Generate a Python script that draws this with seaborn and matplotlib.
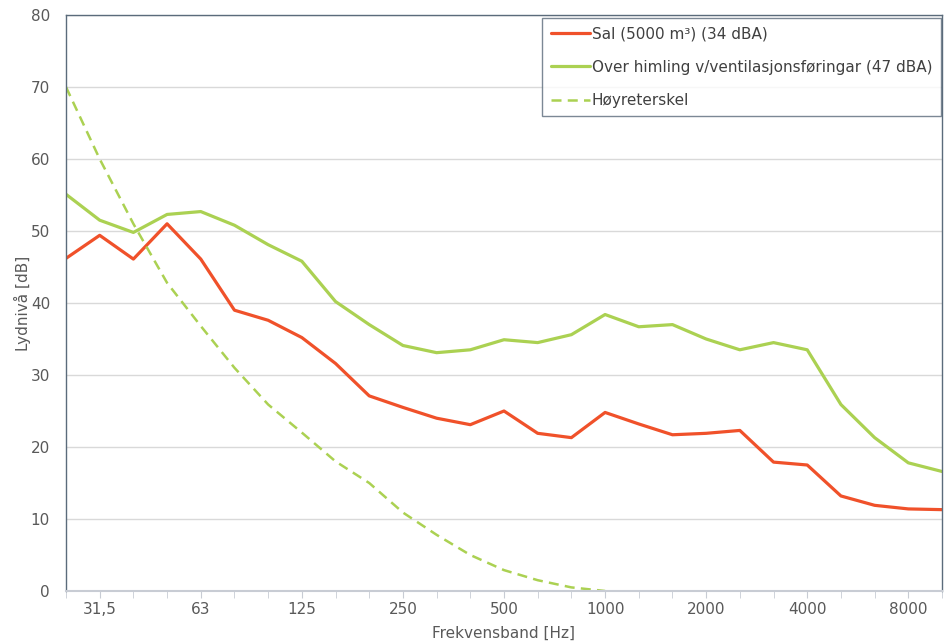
import numpy as np
import pandas as pd
import seaborn as sns
import matplotlib.pyplot as plt

# tersband 25 Hz - 10 kHz
bands = ['25', '31,5', '40', '50', '63', '80', '100', '125', '160', '200', '250', '315',
         '400', '500', '630', '800', '1000', '1250', '1600', '2000', '2500', '3150',
         '4000', '5000', '6300', '8000', '10000']
sal = [46.2, 49.4, 46.1, 51.0, 46.1, 39.0, 37.6, 35.2, 31.6, 27.1, 25.5, 24.0,
       23.1, 25.0, 21.9, 21.3, 24.8, 23.2, 21.7, 21.9, 22.3, 17.9, 17.5, 13.2,
       11.9, 11.4, 11.3]
himling = [55.1, 51.5, 49.8, 52.3, 52.7, 50.8, 48.1, 45.8, 40.2, 37.0, 34.1, 33.1,
           33.5, 34.9, 34.5, 35.6, 38.4, 36.7, 37.0, 35.0, 33.5, 34.5, 33.5, 25.9,
           21.3, 17.8, 16.6]
terskel = [70.0, 60.0, 51.0, 42.8, 36.8, 31.0, 25.9, 22.0, 18.0, 15.0, 10.9, 7.8,
           5.0, 2.9, 1.5, 0.5, 0.0]
tick_labels = ['31,5', '63', '125', '250', '500', '1000', '2000', '4000', '8000']

lbl_sal = 'Sal (5000 m³) (34 dBA)'
lbl_him = 'Over himling v/ventilasjonsføringar (47 dBA)'
lbl_ter = 'Høyreterskel'

df = pd.DataFrame({'idx': np.arange(len(bands)), 'band': bands,
                   lbl_sal: sal, lbl_him: himling})
df_t = pd.DataFrame({'idx': np.arange(len(terskel)), lbl_ter: terskel})

sns.set_style('white')
plt.rcParams['font.family'] = ['DejaVu Sans']
txt = '#595959'

fig = plt.figure(figsize=(9.45, 6.44), dpi=100)
ax = fig.add_axes([66 / 945, 1 - 591 / 644, 876 / 945, 576 / 644])

sns.lineplot(data=df, x='idx', y=lbl_sal, ax=ax, color='#f0512a', lw=2.3, label=lbl_sal)
sns.lineplot(data=df, x='idx', y=lbl_him, ax=ax, color='#abd152', lw=2.3, label=lbl_him)
sns.lineplot(data=df_t, x='idx', y=lbl_ter, ax=ax, color='#abd152', lw=1.8,
             linestyle=(0, (4, 2.5)), label=lbl_ter)

ax.set_xlim(0, len(bands) - 1)
ax.set_ylim(0, 80)
ax.set_yticks(range(0, 81, 10))
ax.set_xticks(np.arange(len(bands)), minor=True)
ax.set_xticks([bands.index(t) for t in tick_labels])
ax.set_xticklabels(tick_labels)
ax.yaxis.grid(True, color='#d9d9d9', lw=1)
ax.set_axisbelow(True)

ax.tick_params(axis='x', which='both', bottom=True, length=5, color='#c8ccd4',
               labelcolor=txt, labelsize=11, pad=3)
ax.tick_params(axis='y', left=False, labelcolor=txt, labelsize=11, pad=8)
ax.set_xlabel('Frekvensband [Hz]', color=txt, fontsize=11, labelpad=6)
ax.set_ylabel('Lydnivå [dB]', color=txt, fontsize=11, labelpad=0)

for s in ['left', 'top', 'right']:
    ax.spines[s].set_color('#5b6b7b')
    ax.spines[s].set_linewidth(1)
ax.spines['bottom'].set_color('#c8ccd4')
ax.spines['bottom'].set_linewidth(1.5)

leg = ax.legend(loc='upper right', bbox_to_anchor=(0.9985, 0.995), fontsize=11,
                frameon=True, fancybox=False, handlelength=2.6, handletextpad=0.1,
                labelspacing=1.2, borderpad=0.55, borderaxespad=0)
leg.get_frame().set_edgecolor('#5b6b7b')
leg.get_frame().set_linewidth(1)
for t in leg.get_texts():
    t.set_color('#404040')

fig.savefig('out.png', dpi=100)
